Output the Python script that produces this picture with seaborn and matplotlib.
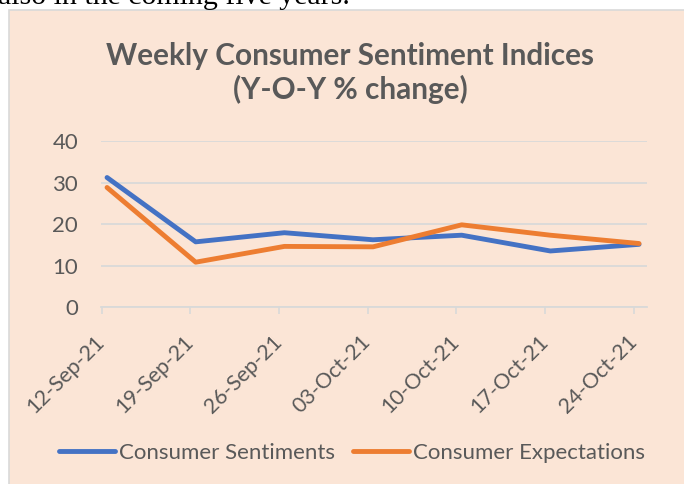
import matplotlib
matplotlib.use("Agg")
import matplotlib.pyplot as plt
from matplotlib.patches import Rectangle
import matplotlib.transforms as mtransforms
import seaborn as sns
import pandas as pd

dates = ["12-Sep-21", "19-Sep-21", "26-Sep-21", "03-Oct-21", "10-Oct-21", "17-Oct-21", "24-Oct-21"]
sentiments = [31.2, 15.7, 17.9, 16.2, 17.3, 13.5, 15.1]
expectations = [28.8, 10.8, 14.6, 14.5, 19.8, 17.3, 15.3]
series_names = ["Consumer Sentiments", "Consumer Expectations"]
yticks = [0, 10, 20, 30, 40]

sns.set_theme(style="white")
plt.rcParams["font.family"] = ["Lato", "DejaVu Sans"]

df = pd.DataFrame({
    "x": list(range(len(dates))) * 2,
    "value": sentiments + expectations,
    "series": [series_names[0]] * len(dates) + [series_names[1]] * len(dates),
})

W, H = 684, 484
fig = plt.figure(figsize=(W / 100, H / 100), dpi=100, facecolor="white")

# peach chart box
box = Rectangle((9 / W, -0.01), 1.0, 1 - 10 / H + 0.01, transform=fig.transFigure,
                facecolor="#FBE5D6", edgecolor="#D9D9D9", linewidth=1.2, zorder=-10)
fig.patches.append(box)
# cut-off document text above the chart
fig.text(-2 / W, 1 - 3.5 / H, "also in the coming five years.", family="Liberation Serif",
         fontsize=21.5, color="black", va="baseline", ha="left", zorder=-5)

grey = "#595959"
ax = fig.add_axes([101 / W, 1 - 307 / H, (647 - 101) / W, (307 - 141) / H], zorder=5)
ax.set_facecolor("none")

sns.lineplot(data=df, x="x", y="value", hue="series",
             palette=["#4472C4", "#ED7D31"], linewidth=3.5, ax=ax,
             solid_capstyle="round", legend=True)

n = len(dates)
ax.set_ylim(0, 40)
ax.set_xlim(-0.068, n - 1 + 0.09)
ax.set_yticks(yticks)
ax.set_yticklabels([str(v) for v in yticks], color=grey, fontsize=16)
ax.set_xticks([i - 0.06 for i in range(n)])
ax.set_xticklabels(dates, rotation=45, ha="right", va="center", rotation_mode="anchor",
                   color=grey, fontsize=15.5)
offset = mtransforms.ScaledTranslation(11 / 100, 0, fig.dpi_scale_trans)
for lab in ax.get_xticklabels():
    lab.set_transform(lab.get_transform() + offset)
ax.tick_params(axis="y", length=0, pad=16.5)
ax.tick_params(axis="x", length=5, width=1.2, color="#D9D9D9", pad=18, bottom=True)
ax.grid(axis="y", color="#D9D9D9", linewidth=1.3)
ax.set_axisbelow(True)
for s in ["top", "right", "left"]:
    ax.spines[s].set_visible(False)
ax.spines["bottom"].set_color("#D9D9D9")
ax.spines["bottom"].set_linewidth(1.3)
ax.set_xlabel("")
ax.set_ylabel("")

fig.text(350 / W, 1 - 73 / H, "Weekly Consumer Sentiment Indices\n(Y-O-Y % change)",
         ha="center", va="center", fontsize=21.4, fontweight="bold", color=grey, linespacing=1.22)

handles, labels = ax.get_legend_handles_labels()
ax.legend_.remove()
leg = fig.legend(handles, labels, loc="center", bbox_to_anchor=(352 / W, 1 - 453 / H), ncol=2,
                 frameon=False, fontsize=16, handlelength=2.5, handletextpad=0.18,
                 columnspacing=0.85, labelcolor=grey)
for h in leg.get_lines():
    h.set_linewidth(3.5)
    h.set_solid_capstyle("round")

fig.savefig("out.png", dpi=100, facecolor="white")
